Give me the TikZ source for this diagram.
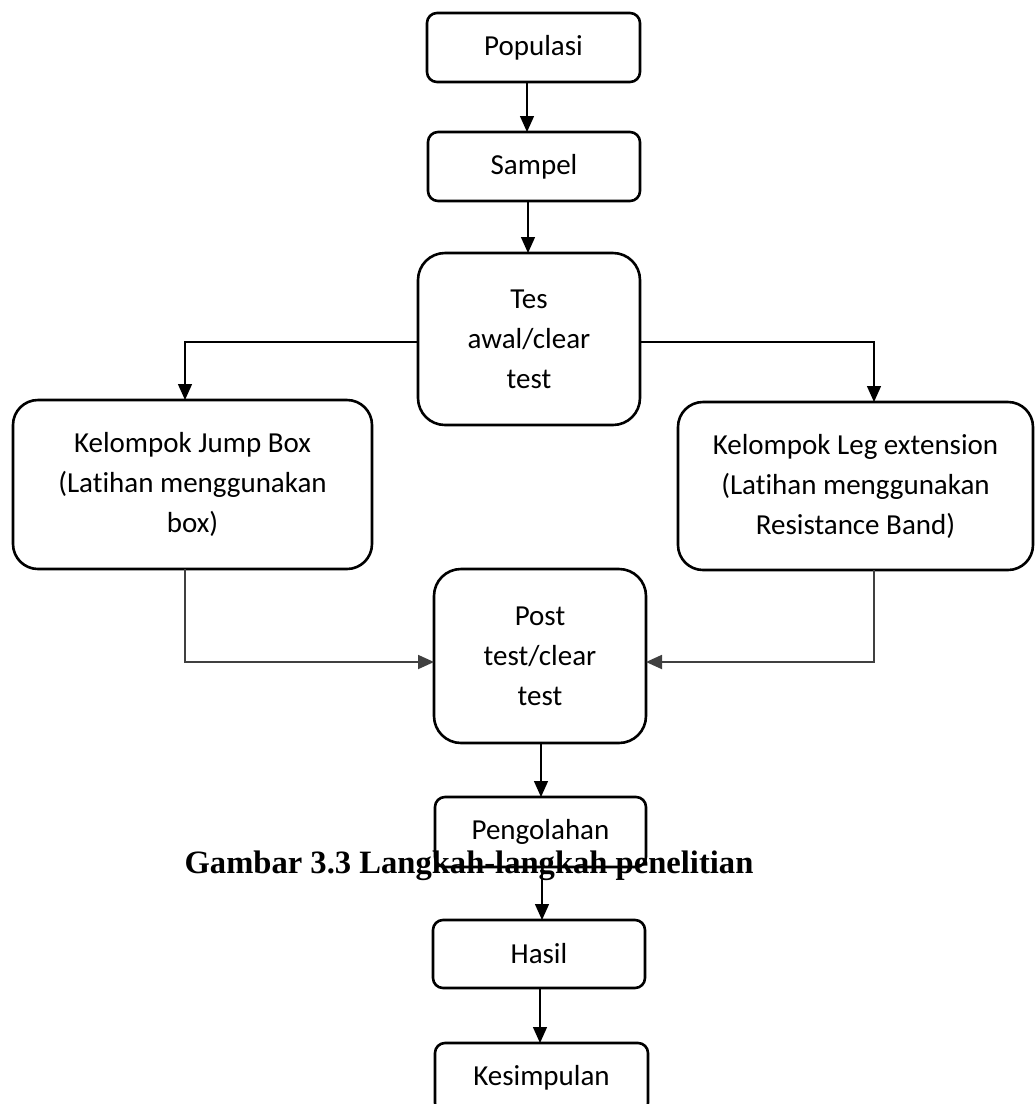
\documentclass[tikz,border=0pt]{standalone}
\usepackage{fontspec}
\setmainfont{Carlito}[Ligatures=NoCommon]
\newfontfamily\capfont{Liberation Serif}
\usetikzlibrary{arrows.meta}
\begin{document}
\begin{tikzpicture}[x=1pt,y=-1pt,
  every node/.style={inner sep=0pt,outer sep=0pt},
  boxsmall/.style={draw,line width=2.6pt,rounded corners=10pt,minimum width=#1,minimum height=69pt,align=center,font=\fontsize{29}{40}\selectfont},
  boxbig/.style={draw,line width=2.6pt,rounded corners=27pt,align=center,font=\fontsize{29}{40}\selectfont},
  conn/.style={line width=1.4pt,-{Triangle[width=14pt,length=16pt]}},
  connlow/.style={line width=1.8pt,draw=black!75,-{Triangle[width=14pt,length=16pt]}}
]
\useasboundingbox (0,0) rectangle (1035,1104);
\fill[white] (0,0) rectangle (1035,1104);

\node[font=\capfont\bfseries\fontsize{32.6}{36}\selectfont,anchor=base] (cap) at (469,873) {Gambar 3.3 Langkah-langkah penelitian};

\node[boxsmall=213pt] (pop) at (533.5,47.5) {Populasi};
\node[boxsmall=212pt] (samp) at (534,166.5) {Sampel};
\node[boxbig,minimum width=222pt,minimum height=172pt] (tes) at (529,339) {Tes\\awal/clear\\test};
\node[boxbig,minimum width=359pt,minimum height=169pt,rounded corners=25pt] (jb) at (192.5,484.5) {Kelompok Jump Box\\(Latihan menggunakan\\box)};
\node[boxbig,minimum width=355pt,minimum height=168pt,rounded corners=25pt] (le) at (855.5,486) {Kelompok Leg extension\\(Latihan menggunakan\\Resistance Band)};
\node[boxbig,minimum width=212pt,minimum height=174pt] (post) at (540,656) {Post\\test/clear\\test};
\node[boxsmall=211pt,minimum height=70pt] (peng) at (540.5,832) {Pengolahan};
\node[boxsmall=212pt,minimum height=68pt] (hasil) at (539,954) {Hasil};
\node[boxsmall=213pt,minimum height=70pt] (kes) at (541.5,1078) {Kesimpulan};

\coordinate (v1) at (527,0);
\coordinate (v2) at (528,0);
\coordinate (vl) at (185,0);
\coordinate (vr) at (874,0);
\coordinate (hl) at (0,342);
\coordinate (hp) at (0,662);
\coordinate (v3) at (541,0);
\coordinate (v4) at (542,0);
\coordinate (v5) at (540,0);

\draw[conn] (pop.south -| v1) -- (samp.north -| v1);
\draw[conn] (samp.south -| v2) -- (tes.north -| v2);
\draw[conn] (tes.west |- hl) -| (jb.north -| vl);
\draw[conn] (tes.east |- hl) -| (le.north -| vr);
\draw[connlow] (jb.south -| vl) |- (post.west |- hp);
\draw[connlow] (le.south -| vr) |- (post.east |- hp);
\draw[conn] (post.south -| v3) -- (peng.north -| v3);
\draw[conn] (peng.south -| v4) -- (hasil.north -| v4);
\draw[conn] (hasil.south -| v5) -- (kes.north -| v5);
\end{tikzpicture}
\end{document}
